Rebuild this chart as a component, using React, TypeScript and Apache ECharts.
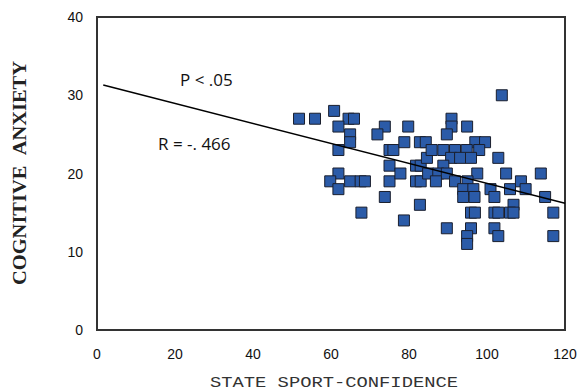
import React, { useEffect, useRef } from "react";
import * as echarts from "echarts";

const confidence = [
  51.8, 55.9, 60.8, 64.5, 65.9, 61.9, 64.9, 64.9, 61.9, 73.8, 71.9, 75, 76, 75, 61.9, 59.8, 61.9, 64.9, 67.6, 68.7, 75, 73.8, 67.8, 78.7,
  79.8, 78.8, 82.8, 84.3, 77.8, 81.8, 83, 81.8, 83, 82.8, 84.6, 85.8, 84.9,
  90.9, 90.9, 94.9, 89.7, 97, 99.5, 88.8, 91.8, 94.8, 98, 90.8, 93.1, 95.9, 88.8, 87.5, 89.7, 97.5, 86.9, 91.8, 95, 93.9, 96.5, 93.9, 96.8, 95.9, 96.9, 89.7, 95.9, 94.9, 94.9,
  103.8, 102.9, 104.9, 113.8, 108.7, 100.9, 105.9, 109.9, 101.9, 114.9, 106.8, 101.9, 102.9, 105.9, 106.8, 117, 101.9, 102.9, 117,
];
const anxiety = [
  27, 27, 28, 27, 27, 26, 25, 24, 23, 26, 25, 23, 23, 21, 20, 19, 18, 19, 19, 19, 19, 17, 15, 14,
  26, 24, 24, 24, 20, 21, 21, 19, 19, 16, 22, 23, 20,
  27, 26, 26, 25, 24, 24, 23, 23, 23, 23, 22, 22, 22, 21, 20, 20, 20, 19, 19, 19, 18, 18, 17, 17, 15, 15, 13, 13, 12, 11,
  30, 22, 20, 20, 19, 18, 18, 18, 17, 17, 16, 15, 15, 15, 15, 15, 13, 12, 12,
];
const fitX = [1.6, 120];
const fitY = [31.3, 16.2];
const xTicks = [0, 20, 40, 60, 80, 100, 120];
const yTicks = [0, 10, 20, 30, 40];

export default function App() {
  const ref = useRef<HTMLDivElement>(null);
  useEffect(() => {
    const chart = echarts.init(ref.current!, undefined, { renderer: "svg" });
    const axisLine = { show: true, lineStyle: { color: "#333", width: 2 } };
    chart.setOption({
      animation: false,
      backgroundColor: "#fff",
      grid: { left: 97, right: 18, top: 17, bottom: 61, show: true, borderColor: "#333", borderWidth: 2, containLabel: false, outerBoundsMode: "none" },
      xAxis: {
        type: "value",
        min: xTicks[0],
        max: xTicks[xTicks.length - 1],
        interval: 20,
        axisLine,
        axisTick: { show: false },
        splitLine: { show: false },
        axisLabel: { color: "#111", fontSize: 14, fontFamily: "Liberation Sans, Arial", margin: 17 },
      },
      yAxis: {
        type: "value",
        min: yTicks[0],
        max: yTicks[yTicks.length - 1],
        interval: 10,
        axisLine,
        axisTick: { show: false },
        splitLine: { show: false },
        axisLabel: { color: "#111", fontSize: 14, fontFamily: "Liberation Sans, Arial", margin: 14 },
      },
      series: [
        {
          type: "scatter",
          symbol: "rect",
          symbolSize: 11,
          data: confidence.map((x, i) => [x, anxiety[i]]),
          itemStyle: { color: "#2B5BA8", borderColor: "#1a1f2e", borderWidth: 1, opacity: 1 },
          z: 2,
        },
        {
          type: "line",
          data: fitX.map((x, i) => [x, fitY[i]]),
          symbol: "none",
          lineStyle: { color: "#000", width: 1.5 },
          z: 3,
        },
      ],
      graphic: [
        { type: "text", x: 180, y: 79, style: { text: "P < .05", fontSize: 17, fontFamily: "Open Sans, Liberation Sans", fill: "#111", textVerticalAlign: "middle" } },
        { type: "text", x: 158, y: 143, style: { text: "R = -. 466", fontSize: 17, fontFamily: "Open Sans, Liberation Sans", fill: "#111", textVerticalAlign: "middle" } },
        {
          type: "text", x: 334, y: 383, scaleY: 0.8,
          style: { text: "STATE SPORT-CONFIDENCE", fontSize: 18.8, fontFamily: "Liberation Mono, Courier New, monospace", fill: "#333", textAlign: "center", textVerticalAlign: "middle" },
        },
        {
          type: "text", x: 19, y: 173, rotation: Math.PI / 2, scaleX: 1.05,
          style: { text: "COGNITIVE\u00A0\u00A0ANXIETY", fontSize: 19.5, fontWeight: "bold", fontFamily: "Liberation Serif, Times New Roman, serif", fill: "#222", textAlign: "center", textVerticalAlign: "middle" },
        },
      ],
    });
    return () => chart.dispose();
  }, []);
  return <div ref={ref} style={{ width: 583, height: 391, position: "absolute", left: 0, top: 0 }} />;
}
